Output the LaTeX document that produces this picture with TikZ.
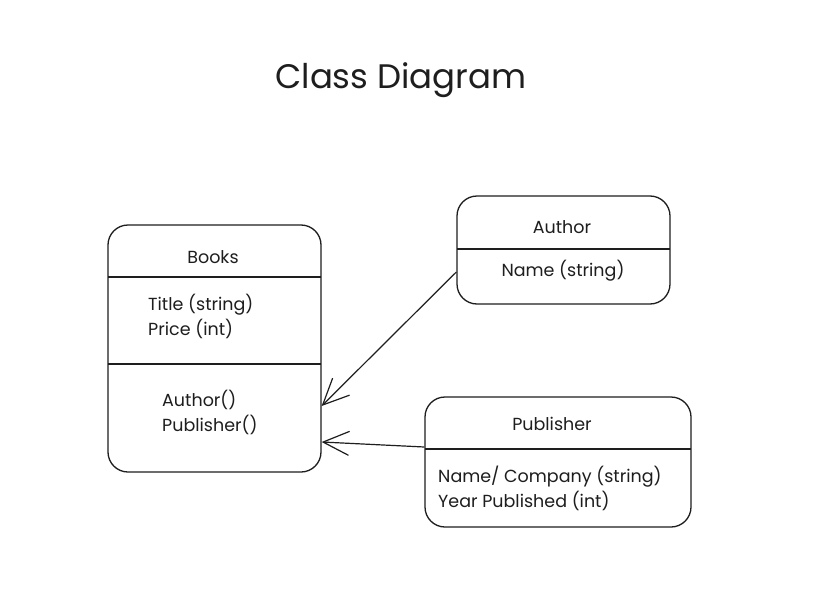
\documentclass[tikz,border=0pt]{standalone}
\usepackage{fontspec}
\setmainfont{Poppins}
\usetikzlibrary{arrows.meta,calc}
\definecolor{ink}{HTML}{1E1E1E}
\tikzset{
  classbox/.style={draw=ink, line width=1.3pt, rounded corners=20pt, inner sep=0pt},
  divider/.style={draw=ink, line width=1.3pt},
  lbl/.style={text=ink, font=\fontsize{17.5}{25}\selectfont, inner sep=0pt},
  conn/.style={draw=ink, line width=1.2pt, -{Straight Barb[length=26pt,width=24pt,line width=1.2pt]}},
}
\begin{document}
\begin{tikzpicture}[x=1pt,y=-1pt]
\useasboundingbox[fill=white] (0,0) rectangle (825,605);
\node[text=ink, font=\fontsize{34}{40}\selectfont, inner sep=0pt] (title) at (401,80) {Class Diagram};
% Books
\node[classbox, minimum width=213pt, minimum height=247pt] (books) at (214.5,348.5) {};
\draw[divider] (108,277) coordinate (bd1l) -- (321,277) coordinate (bd1r);
\draw[divider] (108,364) coordinate (bd2l) -- (321,364) coordinate (bd2r);
\node[lbl] (bookst) at (213,257) {Books};
\node[lbl, anchor=west, align=left] (booksattr) at (148,316) {Title (string)\\Price (int)};
\node[lbl, anchor=west, align=left] (booksm) at (162,412) {Author()\\Publisher()};
% Author
\node[classbox, minimum width=213pt, minimum height=108pt] (author) at (563.5,250) {};
\draw[divider] (457,249) -- (670,249);
\node[lbl] (authort) at (562,227) {Author};
\node[lbl] (authora) at (563,271) {Name (string)};
% Publisher
\node[classbox, minimum width=266pt, minimum height=130pt] (pub) at (558,462) {};
\draw[divider] (425,449) -- (691,449);
\node[lbl] (pubt) at (552,424) {Publisher};
\node[lbl, anchor=west, align=left] (puba) at (438,488) {Name/ Company (string)\\Year Published (int)};
% connectors
\coordinate (a1) at ($(author.west)+(0,22)$);
\coordinate (b1) at ($(books.east)+(0,57.5)$);
\coordinate (p1) at ($(pub.west)+(0,-15)$);
\coordinate (b2) at ($(books.east)+(0,93.5)$);
\draw[conn] (a1) -- (b1);
\draw[conn] (p1) -- (b2);
\end{tikzpicture}
\end{document}
